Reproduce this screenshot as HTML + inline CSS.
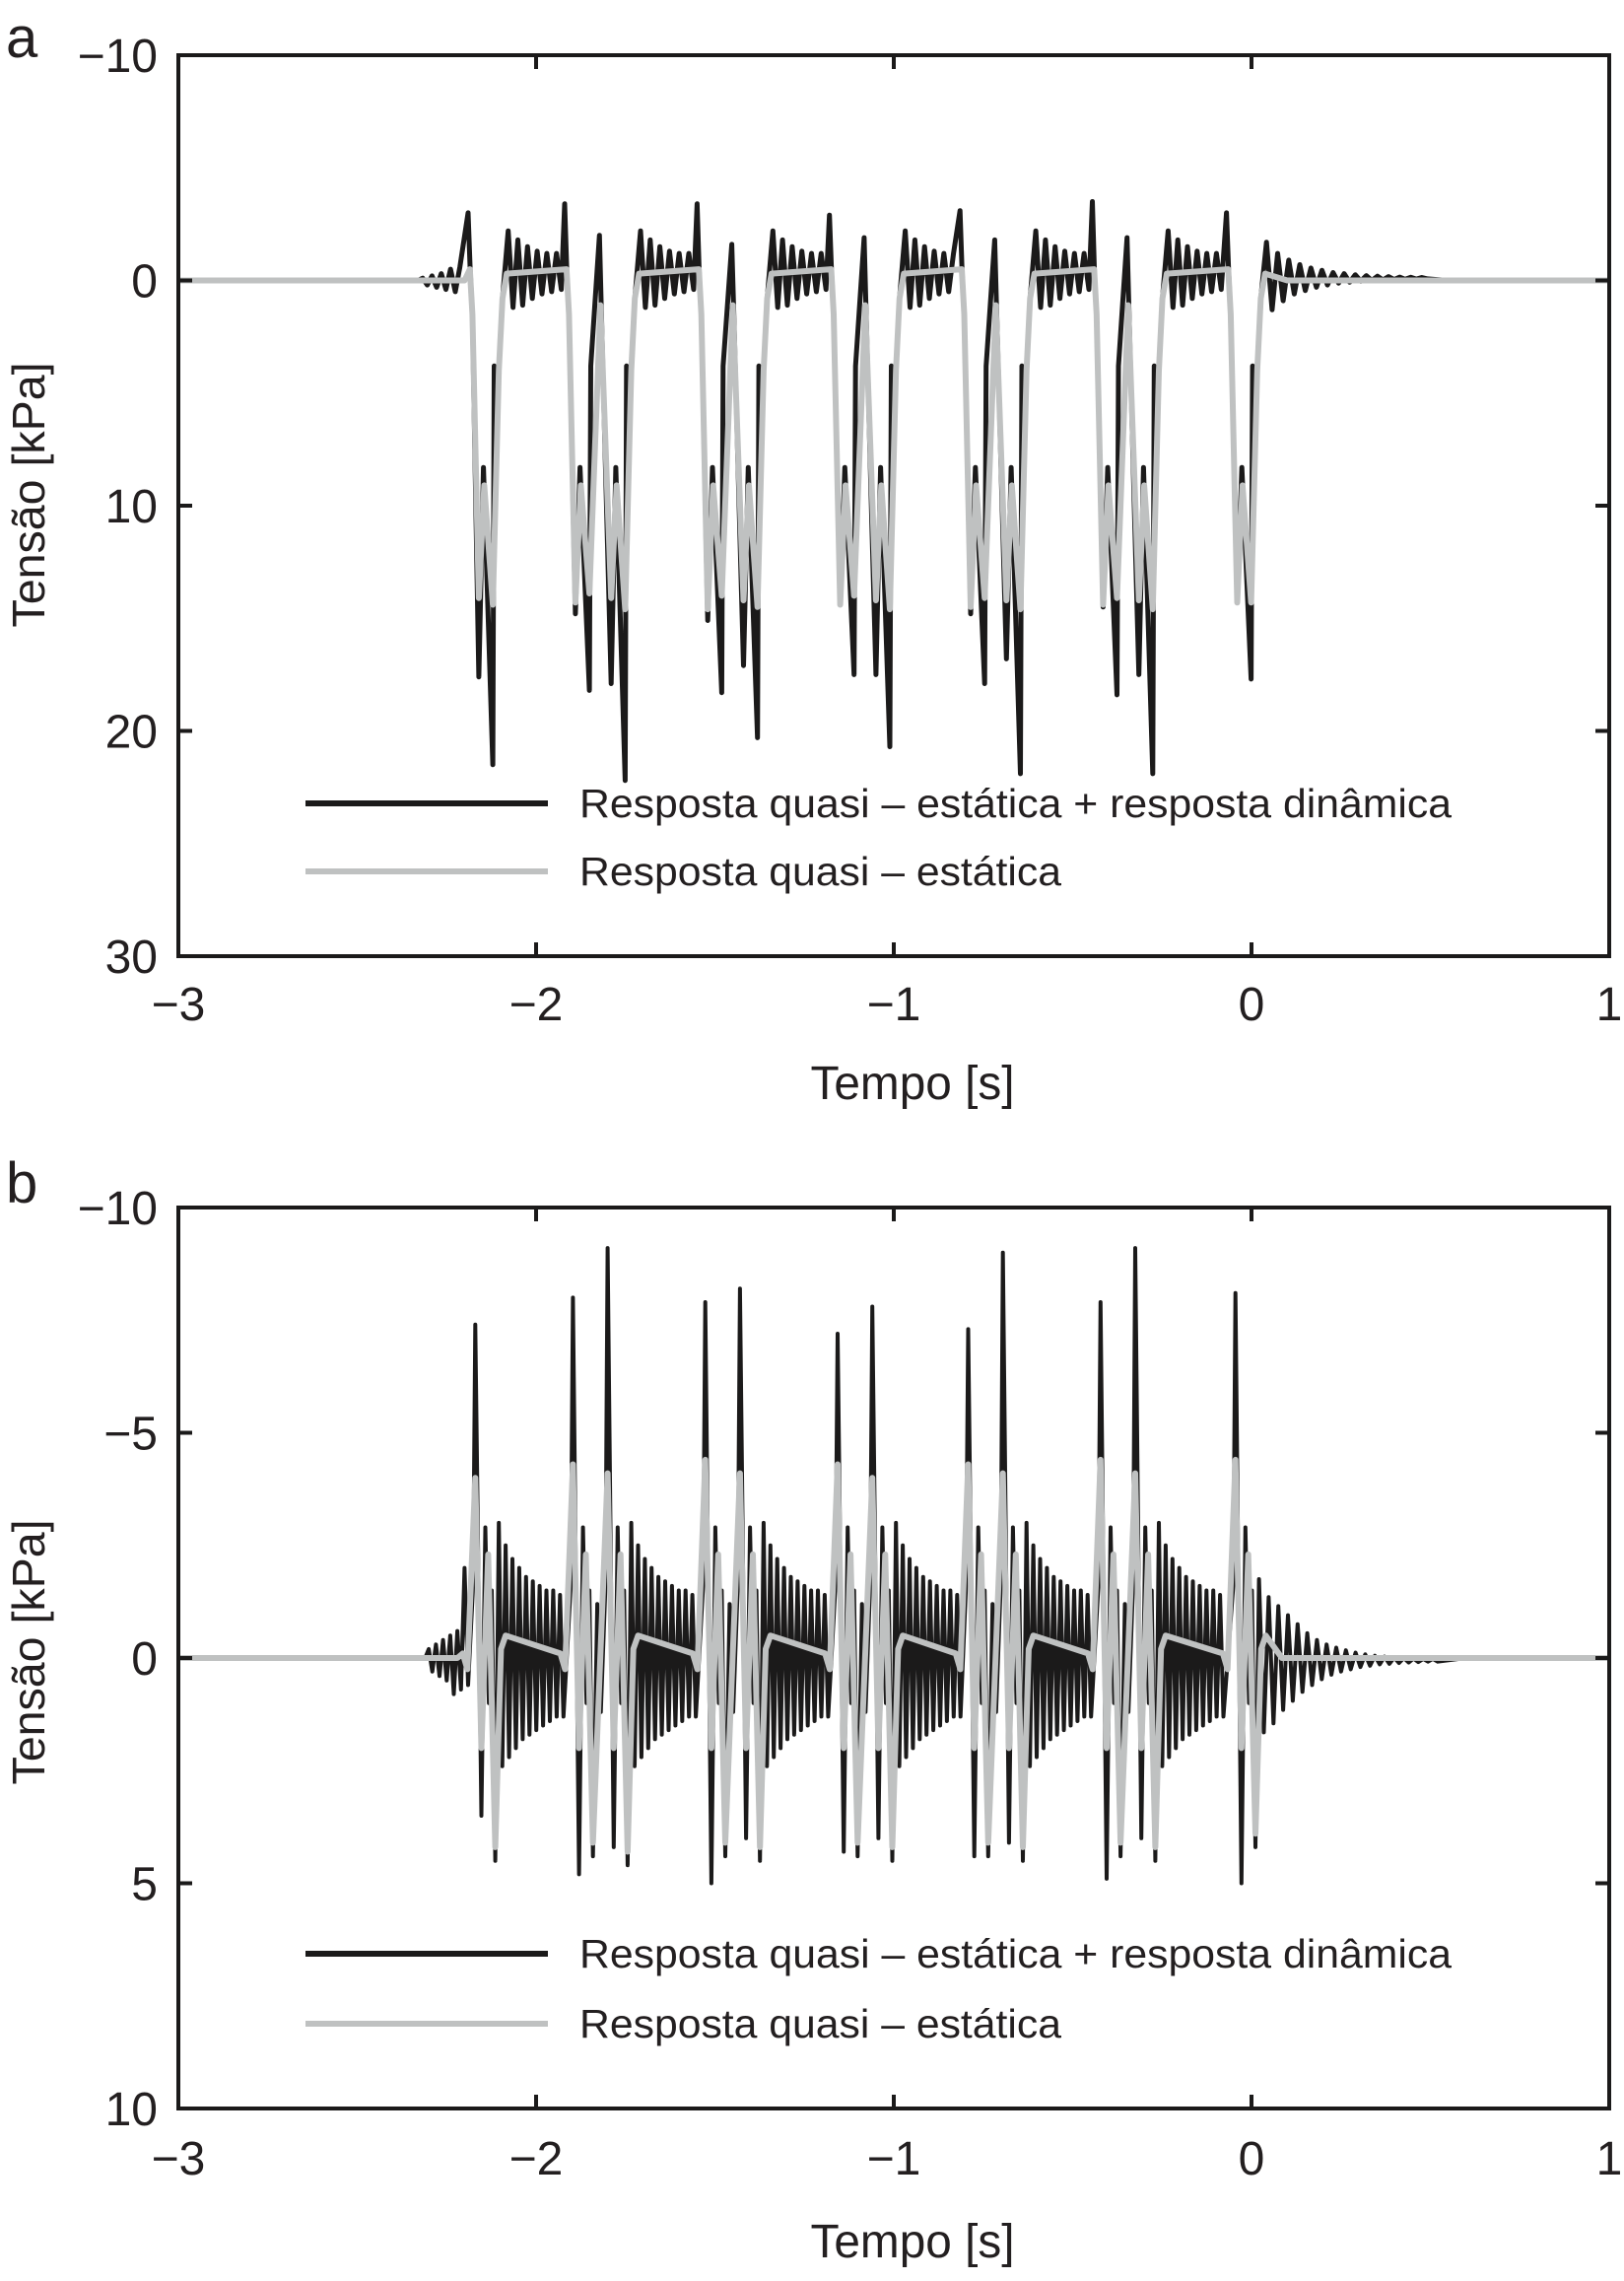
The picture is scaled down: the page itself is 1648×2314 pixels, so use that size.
<!DOCTYPE html>
<html><head><meta charset="utf-8"><style>
html,body{margin:0;padding:0;background:#fff}
svg{display:block}
text{font-family:"Liberation Sans",sans-serif;fill:#231f20}
</style></head><body>
<svg id="fig" width="1648" height="2314" viewBox="0 0 1648 2314" xmlns="http://www.w3.org/2000/svg">
<defs>
<clipPath id="clipA"><rect x="181" y="56" width="1452" height="914"/></clipPath>
<clipPath id="clipB"><rect x="181" y="1225" width="1452" height="914"/></clipPath>
</defs>
<g id="panelA"></g>
<g id="panelB"></g>
</svg>
<script>
// ===== Panel a data =====
const aPairCenters = [-2.14, -1.87, -1.77, -1.50, -1.40, -1.13, -1.03, -0.765, -0.665, -0.395, -0.295, -0.02];
const aGroupSizes = [1, 2, 2, 2, 2, 2, 1];
const aGrayDip1 = [14.1, 14.3, 14.1, 14.6, 14.2, 14.4, 14.2, 14.5, 14.2, 14.4, 14.2, 14.3];
const aGrayDip2 = [14.4, 13.9, 14.6, 14.0, 14.5, 14.0, 14.6, 14.1, 14.6, 14.1, 14.6, 14.3];
const aBlackDeep1 = [17.6, 14.8, 17.9, 15.1, 17.1, 14.4, 17.5, 14.8, 16.8, 14.5, 17.5, 14.3];
const aBlackDeep2 = [21.5, 18.2, 22.2, 18.3, 20.3, 17.5, 20.7, 17.9, 21.9, 18.4, 21.9, 17.7];
const aBigUp = [-3.0, -3.4, -3.4, -2.9, -3.1, -3.5, -3.0];
const aMidUp = [-2.0, -1.6, -1.9, -1.8, -1.9];
const aOsc = [-1.8, 1.6, -1.4, 1.5, -1.1, 1.2, -0.9, 1.0, -0.8, 0.9, -0.8, 0.8, -0.7, 1.0, -0.8, 1.2];
const aLead = [0, -0.1, 0.2, -0.2, 0.3, -0.3, 0.4, -0.5, 0.5, -0.6];
const aTail = [-1.6, 1.4, -1.1, 1.0, -0.8, 0.7, -0.6, 0.55, -0.45, 0.4, -0.35, 0.3, -0.25, 0.22, -0.2, 0.18, -0.15, 0.13, -0.11, 0.1, -0.09, 0.08, -0.07, 0.06, -0.05, 0.05, -0.04, 0.04, -0.03, 0.03];
const aYTicks = [-10, 0, 10, 20, 30];
const aYTickLabels = ["\u221210", "0", "10", "20", "30"];

// ===== Panel b data =====
const bUnits = [-2.17, -1.897, -1.80, -1.527, -1.43, -1.157, -1.06, -0.792, -0.695, -0.422, -0.325, -0.045];
const bGroupSizes = [1, 2, 2, 2, 2, 2, 1];
const bGrayUp = [-4.0, -4.3, -4.1, -4.4, -4.1, -4.3, -4.0, -4.3, -4.1, -4.4, -4.1, -4.4];
const bGrayDown = [4.2, 4.1, 4.3, 4.1, 4.2, 4.1, 4.2, 4.1, 4.2, 4.1, 4.2, 3.9];
const bBlackUp = [-7.4, -8.0, -9.1, -7.9, -8.2, -7.2, -7.8, -7.3, -9.0, -7.9, -9.1, -8.1];
const bBlackDown = [3.5, 4.8, 4.2, 5.0, 4.0, 4.3, 4.0, 4.4, 4.1, 4.9, 4.0, 5.0];
const bOsc = [-2.8, 2.6, -2.3, 2.4, -2.0, 2.2, -1.8, 2.0, -1.6, 1.9, -1.5, 1.8, -1.4, 1.7, -1.3, 1.6, -1.3, 1.5, -1.2, 1.5];
const bLead = [0, -0.2, 0.3, -0.3, 0.4, -0.4, 0.5, -0.5, 0.8, -0.6, 0.7, -2.0, 0.6];
const bTail = [-1.8, 1.6, -1.4, 1.4, -1.2, 1.1, -1.0, 0.9, -0.8, 0.7, -0.6, 0.55, -0.45, 0.42, -0.35, 0.32, -0.28, 0.25, -0.22, 0.2, -0.17, 0.15, -0.13, 0.12, -0.1, 0.09, -0.08, 0.08, -0.06, 0.06, -0.05, 0.05, -0.04, 0.04, -0.03, 0.03, -0.03, 0.03];
const bYTicks = [-10, -5, 0, 5, 10];
const bYTickLabels = ["\u221210", "\u22125", "0", "5", "10"];

const xTicks = [-3, -2, -1, 0, 1];
const xTickLabels = ["\u22123", "\u22122", "\u22121", "0", "1"];

const NS = "http://www.w3.org/2000/svg";
const X0 = 181, X1 = 1633;
function xs(t) { return X0 + (t + 3) / 4 * (X1 - X0); }
function mk(tag, attrs, parent) {
  const e = document.createElementNS(NS, tag);
  for (const k in attrs) e.setAttribute(k, attrs[k]);
  parent.appendChild(e);
  return e;
}

function buildA() {
  const gray = [[-3, 0]], black = [[-3, 0]];
  for (let i = 0; i < aLead.length; i++) black.push([-2.33 + i * 0.013, aLead[i]]);
  gray.push([-2.20, 0]);
  let idx = 0, mid = 0;
  for (let g = 0; g < aGroupSizes.length; g++) {
    const n = aGroupSizes[g];
    for (let k = 0; k < n; k++) {
      const p = aPairCenters[idx];
      if (k === 0) {
        gray.push([p - 0.045, -0.5], [p - 0.038, 1.5]);
        black.push([p - 0.05, aBigUp[g]], [p - 0.044, -0.4], [p - 0.038, 1.5]);
      }
      gray.push([p - 0.02, aGrayDip1[idx]], [p - 0.005, 9.1], [p + 0.019, aGrayDip2[idx]]);
      black.push([p - 0.02, aBlackDeep1[idx]], [p - 0.007, 8.3], [p + 0.019, aBlackDeep2[idx]], [p + 0.023, 3.8]);
      if (k < n - 1) {
        gray.push([p + 0.05, 1.1]);
        black.push([p + 0.047, aMidUp[mid]], [p + 0.052, 1.1]);
        mid++;
      } else {
        gray.push([p + 0.036, 4.0], [p + 0.046, 0.8], [p + 0.058, -0.3]);
        black.push([p + 0.036, 4.0], [p + 0.046, 0.8]);
        const end = p + 0.062;
        const next = (idx + 1 < aPairCenters.length) ? aPairCenters[idx + 1] - 0.056 : null;
        if (next !== null) {
          for (let j = 0; j < aOsc.length; j++) {
            const t = end + j * 0.0135;
            if (t > next) break;
            black.push([t, -0.4 + aOsc[j]]);
          }
        } else {
          for (let j = 0; j < aTail.length; j++) black.push([end + j * 0.0155, -0.1 + aTail[j]]);
          gray.push([p + 0.12, 0]);
        }
      }
      idx++;
    }
  }
  gray.push([1, 0]);
  black.push([0.55, 0], [1, 0]);
  return { gray, black };
}

function buildB() {
  const gray = [[-3, 0]], black = [[-3, 0]];
  for (let i = 0; i < bLead.length; i++) black.push([-2.31 + i * 0.01, bLead[i]]);
  gray.push([-2.22, 0]);
  let idx = 0;
  for (let g = 0; g < bGroupSizes.length; g++) {
    const n = bGroupSizes[g];
    for (let k = 0; k < n; k++) {
      const u = bUnits[idx];
      if (k === 0) {
        gray.push([u - 0.035, -0.1], [u - 0.022, 0.25]);
      }
      gray.push([u, bGrayUp[idx]], [u + 0.017, 2.0], [u + 0.036, -2.3], [u + 0.056, bGrayDown[idx]]);
      black.push([u - 0.006, -1.6], [u, bBlackUp[idx]], [u + 0.017, bBlackDown[idx]], [u + 0.028, -2.9], [u + 0.038, 1.0], [u + 0.046, -1.5], [u + 0.056, bGrayDown[idx] + 0.3]);
      if (k === n - 1) {
        gray.push([u + 0.072, -0.2], [u + 0.085, -0.5]);
        const end = u + 0.066;
        const next = (idx + 1 < bUnits.length) ? bUnits[idx + 1] - 0.012 : null;
        if (next !== null) {
          for (let j = 0; j < bOsc.length; j++) {
            const t = end + j * 0.0095;
            if (t > next) break;
            black.push([t, -0.2 + bOsc[j]]);
          }
        } else {
          for (let j = 0; j < bTail.length; j++) black.push([end + j * 0.0135, 0.05 + bTail[j]]);
          gray.push([u + 0.13, 0]);
        }
      } else {
        black.push([u + 0.068, -1.2], [u + 0.078, 1.2]);
      }
      idx++;
    }
  }
  gray.push([1, 0]);
  black.push([0.6, 0], [1, 0]);
  return { gray, black };
}

function drawPanel(root, cfg) {
  const { top, bottom, vmin, vmax, yTicks, yLabels, data, clip, letter, letterY, xLabY, titleY, legY1, legY2, ylabCY, blackW } = cfg;
  const ys = v => top + (v - vmin) / (vmax - vmin) * (bottom - top);
  const toPts = arr => arr.slice().sort((a, b) => a[0] - b[0]).map(p => xs(p[0]).toFixed(1) + "," + ys(p[1]).toFixed(1)).join(" ");

  const plot = mk("g", { "clip-path": "url(#" + clip + ")" }, root);
  
  
  const bl = mk("polyline", { points: toPts(data.black), fill: "none", stroke: "#1b1a1a", "stroke-width": blackW, "stroke-linejoin": "round" }, plot);
  
  
  const gl = mk("polyline", { points: toPts(data.gray), fill: "none", stroke: "#bfc1c1", "stroke-width": 6, "stroke-linejoin": "round" }, plot);
  
  

  const fr = mk("rect", { x: X0, y: top, width: X1 - X0, height: bottom - top, fill: "none", stroke: "#1b1a1a", "stroke-width": 4 }, root);
  
  

  for (let i = 0; i < xTicks.length; i++) {
    const x = xs(xTicks[i]);
    const tk = mk("path", { d: `M${x},${top}v14M${x},${bottom}v-14`, stroke: "#1b1a1a", "stroke-width": 4 }, root);
    
    
    const tx = mk("text", { x: x, y: xLabY, "font-size": 48, "text-anchor": "middle" }, root);
    
    
    tx.textContent = xTickLabels[i];
  }
  for (let i = 0; i < yTicks.length; i++) {
    const y = ys(yTicks[i]);
    const tk = mk("path", { d: `M${X0},${y}h14M${X1},${y}h-14`, stroke: "#1b1a1a", "stroke-width": 4 }, root);
    
    
    const tx = mk("text", { x: 160, y: y + 17, "font-size": 48, "text-anchor": "end" }, root);
    
    
    tx.textContent = yLabels[i];
  }
  const xt = mk("text", { x: 926, y: titleY, "font-size": 48, "text-anchor": "middle", textLength: 207, lengthAdjust: "spacingAndGlyphs" }, root);
  
  
  xt.textContent = "Tempo [s]";
  const yt = mk("text", { x: 0, y: 0, "font-size": 46, "text-anchor": "middle", textLength: 269, lengthAdjust: "spacingAndGlyphs", transform: `translate(45,${ylabCY}) rotate(-90)` }, root);
  
  
  yt.textContent = "Tensão [kPa]";
  const lt = mk("text", { x: 6, y: letterY, "font-size": 58 }, root);
  
  
  lt.textContent = letter;

  const lg = mk("g", {}, root);
  
  
  const l1 = mk("line", { x1: 310, x2: 556, y1: legY1, y2: legY1, stroke: "#1b1a1a", "stroke-width": 6 }, lg);
  
  
  const t1 = mk("text", { x: 588, y: legY1 + 14, "font-size": 41, textLength: 885, lengthAdjust: "spacingAndGlyphs" }, lg);
  
  
  t1.textContent = "Resposta quasi \u2013 estática + resposta dinâmica";
  const l2 = mk("line", { x1: 310, x2: 556, y1: legY2, y2: legY2, stroke: "#bfc1c1", "stroke-width": 6 }, lg);
  
  
  const t2 = mk("text", { x: 588, y: legY2 + 14, "font-size": 41, textLength: 489, lengthAdjust: "spacingAndGlyphs" }, lg);
  
  
  t2.textContent = "Resposta quasi \u2013 estática";
}

drawPanel(document.getElementById("panelA"), {
  top: 56, bottom: 970, vmin: -10, vmax: 30, yTicks: aYTicks, yLabels: aYTickLabels,
  data: buildA(), clip: "clipA", letter: "a", letterY: 58, xLabY: 1035, titleY: 1115,
  legY1: 815, legY2: 884, ylabCY: 502, blackW: 5
});
drawPanel(document.getElementById("panelB"), {
  top: 1225, bottom: 2139, vmin: -10, vmax: 10, yTicks: bYTicks, yLabels: bYTickLabels,
  data: buildB(), clip: "clipB", letter: "b", letterY: 1220, xLabY: 2206, titleY: 2290,
  legY1: 1982, legY2: 2053, ylabCY: 1676, blackW: 4
});
</script>
</body></html>
